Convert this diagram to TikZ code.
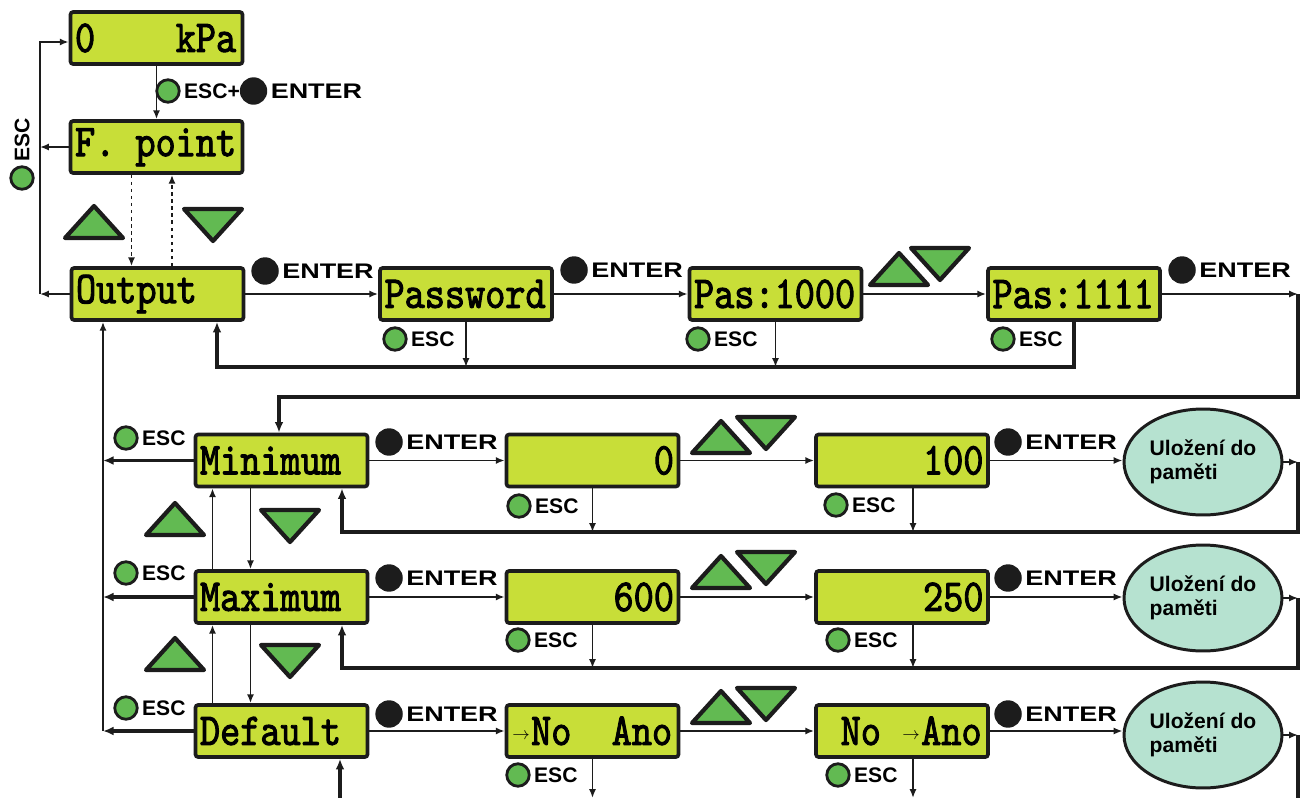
\documentclass[tikz,border=0pt]{standalone}
\usepackage{fontspec}
\setmainfont{Liberation Sans}
\newfontfamily\lcdfont{lmmono10-regular.otf}[FakeStretch=0.84,FakeBold=2]
\newfontfamily\entfont{Liberation Sans}[FakeStretch=1.28]
\usepackage{tikz}
\usetikzlibrary{arrows.meta, positioning, calc, shapes.geometric}

\definecolor{lcdfill}{RGB}{200,222,56}
\definecolor{btngreen}{RGB}{98,186,82}
\definecolor{memfill}{RGB}{182,226,208}
\definecolor{edge}{RGB}{28,28,28}

% key symbols
\newcommand{\escbtn}{\tikz[baseline=-0.35em]\draw[line width=1.6pt, draw=edge, fill=btngreen] (0,0) circle[radius=6.4pt];}
\newcommand{\entbtn}{\tikz[baseline=-0.35em]\fill[edge] (0,0) circle[radius=7.8pt];}
\newcommand{\esclbl}{\escbtn\,ESC}
\newcommand{\entlbl}{\entbtn\,{\entfont ENTER}}
\newcommand{\lcdarr}{\makebox[0.44em]{\raisebox{0.12em}{\scalebox{0.4}{$\rightarrow$}}}}
\newcommand{\lcdsp}{\phantom{0}}
% arrow keys
\newcommand{\uptri}[2]{\draw[tri] (#1-29,#2+16) -- (#1,#2-16) -- (#1+29,#2+16) -- cycle;}
\newcommand{\dntri}[2]{\draw[tri] (#1-29,#2-16) -- (#1+29,#2-16) -- (#1,#2+16) -- cycle;}

\tikzset{
  lcd/.style={draw=edge, line width=2.1pt, fill=lcdfill, rounded corners=1.5pt,
    minimum width=3.44cm, minimum height=1.04cm, text width=3.26cm,
    inner xsep=0.09cm, inner ysep=0pt, align=left,
    font=\lcdfont\fontsize{26}{26}\selectfont},
  mem/.style={ellipse, draw=edge, line width=1.7pt, fill=memfill,
    minimum width=3.16cm, minimum height=2.12cm, inner sep=0pt, align=left,
    font=\bfseries\fontsize{12}{14}\selectfont},
  keylbl/.style={anchor=west, inner sep=0pt, font=\bfseries\fontsize{12}{14}\selectfont},
  flow/.style={draw=edge, line width=1.1pt, -{Latex[length=5pt,width=4pt]}},
  backln/.style={draw=edge, line width=2.2pt},
  back/.style={backln, -{Latex[length=6pt,width=5pt]}},
  dots/.style={dash pattern=on 2pt off 2pt},
  tri/.style={draw=edge, line width=2.4pt, fill=btngreen, line join=round}
}

\begin{document}
\begin{tikzpicture}[x=0.02cm, y=-0.02cm]
\useasboundingbox (0,0) rectangle (1303,798);
% displays
\node[lcd] (kpa) at (156.5,38) {0\lcdsp\lcdsp\lcdsp\lcdsp kPa};
\node[lcd] (fpt) at (156.5,147) {F.\lcdsp point};
\node[lcd] (out) at (157.5,294) {Output};
\node[lcd] (pwd) at (466,294) {Password};
\node[lcd] (p1000) at (775.5,294) {Pas:1000};
\node[lcd] (p1111) at (1074,294) {Pas:1111};
\node[lcd] (mini) at (281.5,460.5) {Minimum};
\node[lcd] (maxi) at (281.5,597) {Maximum};
\node[lcd] (defl) at (281.5,731) {Default};
\node[lcd, align=right] (minv) at (592.5,460.5) {0};
\node[lcd, align=right] (mins) at (902,460.5) {100};
\node[lcd, align=right] (maxv) at (592.5,597) {600};
\node[lcd, align=right] (maxs) at (902,597) {250};
\node[lcd] (defv) at (592.5,731) {\lcdarr No\lcdsp\lcdsp Ano};
\node[lcd] (defs) at (902,731) {\lcdsp No\lcdsp\lcdarr Ano};
\node[mem] (mem1) at (1203,462) {Uložení do\\paměti};
\node[mem] (mem2) at (1203,598) {Uložení do\\paměti};
\node[mem] (mem3) at (1203,735) {Uložení do\\paměti};

% key labels
\node[keylbl] (escent) at (155,91) {\escbtn\,ESC+\entlbl};
\node[keylbl, rotate=90] (escv) at (22,191) {\esclbl};
\node[keylbl] (ent0a) at (251,271) {\entlbl};
\node[keylbl] (ent0b) at (560,270) {\entlbl};
\node[keylbl] (ent0c) at (1168,270) {\entlbl};
\node[keylbl] (esc0a) at (382,339) {\esclbl};
\node[keylbl] (esc0b) at (685,339) {\esclbl};
\node[keylbl] (esc0c) at (990,339) {\esclbl};
\node[keylbl] (ent1a) at (375,442) {\entlbl};
\node[keylbl] (ent1b) at (994,442) {\entlbl};
\node[keylbl] (ent2a) at (375,578) {\entlbl};
\node[keylbl] (ent2b) at (994,578) {\entlbl};
\node[keylbl] (ent3a) at (375,714) {\entlbl};
\node[keylbl] (ent3b) at (994,714) {\entlbl};
\node[keylbl] (esc1l) at (113,438) {\esclbl};
\node[keylbl] (esc2l) at (113,573) {\esclbl};
\node[keylbl] (esc3l) at (113,708) {\esclbl};
\node[keylbl] (esc1a) at (506,506) {\esclbl};
\node[keylbl] (esc1b) at (823,505) {\esclbl};
\node[keylbl] (esc2a) at (505,640) {\esclbl};
\node[keylbl] (esc2b) at (825,640) {\esclbl};
\node[keylbl] (esc3a) at (505,775) {\esclbl};
\node[keylbl] (esc3b) at (825,775) {\esclbl};

% arrow keys
\uptri{94}{222} \dntri{213}{225}
\uptri{899}{269} \dntri{940}{264}
\uptri{175}{519} \dntri{290}{526}
\uptri{175}{654} \dntri{290}{661}
\uptri{721}{437} \dntri{766}{433}
\uptri{721}{572} \dntri{766}{568}
\uptri{721}{707} \dntri{766}{704}

% top menu
\coordinate (escl) at (40,42);
\draw[flow] (kpa) -- (fpt);
\draw[flow] (out.west) -- (out.west -| escl);
\draw[flow] (out.west -| escl) -- (escl) -- (escl -| kpa.west);
\draw[flow] (fpt.west) -- (fpt.west -| escl);
\draw[flow, dots] ($(fpt.south)+(-25,0)$) -- ($(out.north)+(-26,0)$);
\draw[flow, dots] ($(out.north)+(14.5,0)$) -- ($(fpt.south)+(15.5,0)$);

% password row
\draw[flow] (out) -- (pwd);
\draw[flow] (pwd) -- (p1000);
\draw[flow] (p1000) -- (p1111);
\coordinate (r0) at (1298,294);
\coordinate (d0) at (279,397);
\coordinate (b0) at (217,367);
\draw[flow] (p1111) -- (r0);
\draw[back] (r0) |- (d0) -- (d0 |- mini.north);
\draw[back] (p1111.south) |- (b0) -- (b0 |- out.south);
\draw[flow] (pwd.south) -- (pwd.south |- b0);
\draw[flow] (p1000.south) -- (p1000.south |- b0);

% left column
\coordinate (lc) at (103,731);
\draw[back] (mini.west) -- (mini.west -| lc);
\draw[back] (maxi.west) -- (maxi.west -| lc);
\draw[back] (defl.west) -- (defl.west -| lc);
\draw[flow] (defl.west -| lc) -- (lc |- out.south);
\draw[flow] ($(maxi.north)+(-69,0)$) -- ($(mini.south)+(-69,0)$);
\draw[flow] ($(mini.south)+(-31,0)$) -- ($(maxi.north)+(-31,0)$);
\draw[flow] ($(defl.north)+(-69,0)$) -- ($(maxi.south)+(-69,0)$);
\draw[flow] ($(maxi.south)+(-31,0)$) -- ($(defl.north)+(-31,0)$);

% minimum row
\coordinate (r1) at (1298,462);
\coordinate (b1) at (342,532);
\coordinate (s1) at ($(mins.south)+(11,0)$);
\draw[flow] (mini) -- (minv);
\draw[flow] (minv) -- (mins);
\draw[flow] (mins.east) -- (mins.east -| mem1.west);
\draw[flow] (mem1.east) -- (r1);
\draw[back] (r1) |- (b1) -- (b1 |- mini.south);
\draw[flow] (minv.south) -- (minv.south |- b1);
\draw[flow] (s1) -- (s1 |- b1);

% maximum row
\coordinate (r2) at (1298,598);
\coordinate (b2) at (342,668);
\coordinate (s2) at ($(maxs.south)+(11,0)$);
\draw[flow] (maxi) -- (maxv);
\draw[flow] (maxv) -- (maxs);
\draw[flow] (maxs.east) -- (maxs.east -| mem2.west);
\draw[flow] (mem2.east) -- (r2);
\draw[back] (r2) |- (b2) -- (b2 |- maxi.south);
\draw[flow] (maxv.south) -- (maxv.south |- b2);
\draw[flow] (s2) -- (s2 |- b2);

% default row
\coordinate (r3) at (1298,735);
\coordinate (b3) at (340,798);
\coordinate (s3) at ($(defs.south)+(11,0)$);
\draw[flow] (defl) -- (defv);
\draw[flow] (defv) -- (defs);
\draw[flow] (defs.east) -- (defs.east -| mem3.west);
\draw[flow] (mem3.east) -- (r3);
\draw[backln] (r3) -- (r3 |- b3);
\draw[back] (b3) -- (b3 |- defl.south);
\draw[flow] (defv.south) -- (defv.south |- b3);
\draw[flow] (s3) -- (s3 |- b3);
\end{tikzpicture}
\end{document}
